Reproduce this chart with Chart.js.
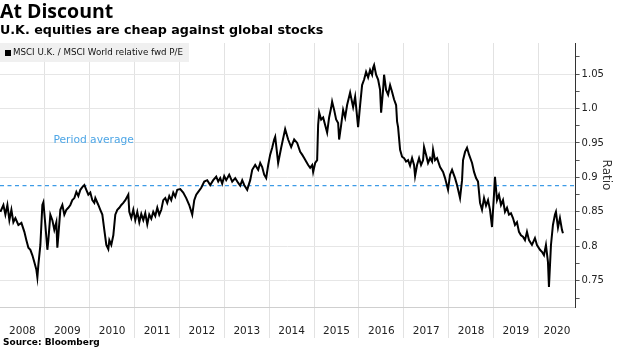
<!DOCTYPE html>
<html>
<head>
<meta charset="utf-8">
<script src="https://cdn.jsdelivr.net/npm/chart.js@4.4.1/dist/chart.umd.min.js"></script>
<style>
  html, body { margin: 0; padding: 0; background: #fff; }
  #wrap { position: relative; width: 620px; height: 348px; overflow: hidden; }
  #chart { position: absolute; left: 0; top: 0; }
  .title { position: absolute; left: 0; top: -1px; font: bold 19.5px "Open Sans", sans-serif; color: #000; line-height: 24px; white-space: nowrap; }
  .subtitle { position: absolute; left: 0; top: 22px; font: bold 12.7px "DejaVu Sans", sans-serif; color: #000; line-height: 16px; white-space: nowrap; }
  .legend { position: absolute; left: 0; top: 43px; width: 189px; height: 19px; background: rgba(238,238,238,0.9); font: 8.7px "DejaVu Sans", sans-serif; line-height: 19px; color: #111; white-space: nowrap; }
  .legend i { display: inline-block; width: 6px; height: 6px; background: #000; margin: 0 2px 0 5px; vertical-align: -0.5px; }
  .source { position: absolute; left: 3px; top: 336px; font: bold 9px "DejaVu Sans", sans-serif; color: #000; line-height: 12px; white-space: nowrap; }
</style>
</head>
<body>
<div id="wrap">
  <canvas id="chart" width="620" height="348"></canvas>
  <div class="title">At Discount</div>
  <div class="subtitle">U.K. equities are cheap against global stocks</div>
  <div class="legend"><i></i>MSCI U.K. / MSCI World relative fwd P/E</div>
  <div class="source">Source: Bloomberg</div>
</div>
<script>
// Relative forward P/E, MSCI U.K. vs MSCI World (dates as fractional years)
const dates = [
  2008.009, 2008.076, 2008.120, 2008.165, 2008.209, 2008.254, 2008.298, 2008.343, 2008.410, 2008.477,
  2008.543, 2008.588, 2008.633, 2008.677, 2008.722, 2008.766, 2008.811, 2008.833, 2008.855, 2008.900,
  2008.944, 2008.967, 2009.011, 2009.056, 2009.078, 2009.122, 2009.167, 2009.211, 2009.256, 2009.278,
  2009.301, 2009.345, 2009.390, 2009.434, 2009.479, 2009.523, 2009.568, 2009.612, 2009.657, 2009.702,
  2009.746, 2009.791, 2009.835, 2009.880, 2009.924, 2009.969, 2010.013, 2010.058, 2010.102, 2010.125,
  2010.192, 2010.236, 2010.281, 2010.325, 2010.370, 2010.414, 2010.437, 2010.481, 2010.526, 2010.570,
  2010.615, 2010.659, 2010.704, 2010.748, 2010.793, 2010.860, 2010.882, 2010.927, 2010.971, 2011.016,
  2011.060, 2011.105, 2011.149, 2011.194, 2011.238, 2011.283, 2011.327, 2011.372, 2011.416, 2011.461,
  2011.506, 2011.550, 2011.595, 2011.639, 2011.684, 2011.728, 2011.773, 2011.817, 2011.862, 2011.906,
  2011.951, 2012.018, 2012.084, 2012.151, 2012.218, 2012.285, 2012.330, 2012.374, 2012.419, 2012.486,
  2012.553, 2012.619, 2012.686, 2012.753, 2012.820, 2012.864, 2012.909, 2012.953, 2012.998, 2013.042,
  2013.109, 2013.176, 2013.243, 2013.310, 2013.354, 2013.399, 2013.443, 2013.510, 2013.577, 2013.622,
  2013.688, 2013.755, 2013.800, 2013.844, 2013.889, 2013.933, 2013.978, 2014.022, 2014.067, 2014.111,
  2014.134, 2014.200, 2014.267, 2014.356, 2014.423, 2014.490, 2014.557, 2014.624, 2014.691, 2014.735,
  2014.780, 2014.824, 2014.869, 2014.913, 2014.958, 2014.980, 2015.025, 2015.069, 2015.091, 2015.114,
  2015.158, 2015.203, 2015.247, 2015.292, 2015.336, 2015.381, 2015.403, 2015.448, 2015.492, 2015.537,
  2015.559, 2015.604, 2015.648, 2015.693, 2015.737, 2015.804, 2015.871, 2015.916, 2015.982, 2016.027,
  2016.071, 2016.116, 2016.160, 2016.205, 2016.249, 2016.294, 2016.316, 2016.339, 2016.383, 2016.428,
  2016.472, 2016.495, 2016.539, 2016.561, 2016.606, 2016.651, 2016.695, 2016.740, 2016.784, 2016.829,
  2016.851, 2016.873, 2016.918, 2016.962, 2017.007, 2017.051, 2017.096, 2017.140, 2017.185, 2017.229,
  2017.252, 2017.296, 2017.341, 2017.385, 2017.430, 2017.452, 2017.497, 2017.541, 2017.586, 2017.630,
  2017.653, 2017.697, 2017.742, 2017.809, 2017.876, 2017.920, 2017.987, 2018.031, 2018.076, 2018.143,
  2018.187, 2018.254, 2018.299, 2018.321, 2018.366, 2018.410, 2018.455, 2018.522, 2018.566, 2018.611,
  2018.655, 2018.700, 2018.744, 2018.789, 2018.833, 2018.878, 2018.922, 2018.967, 2019.011, 2019.033,
  2019.078, 2019.122, 2019.167, 2019.212, 2019.256, 2019.301, 2019.345, 2019.390, 2019.434, 2019.479,
  2019.523, 2019.568, 2019.612, 2019.657, 2019.702, 2019.746, 2019.791, 2019.857, 2019.924, 2019.969,
  2020.036, 2020.080, 2020.125, 2020.169, 2020.214, 2020.236, 2020.281, 2020.325, 2020.370, 2020.392,
  2020.437, 2020.481, 2020.526, 2020.548
];
const ratio = [
  0.850, 0.860, 0.846, 0.860, 0.838, 0.853, 0.835, 0.841, 0.831, 0.834,
  0.821, 0.809, 0.798, 0.795, 0.787, 0.777, 0.766, 0.755, 0.773, 0.802,
  0.860, 0.864, 0.831, 0.795, 0.809, 0.846, 0.838, 0.824, 0.835, 0.798,
  0.816, 0.853, 0.860, 0.846, 0.853, 0.856, 0.860, 0.867, 0.870, 0.879,
  0.873, 0.882, 0.886, 0.889, 0.882, 0.875, 0.878, 0.867, 0.863, 0.870,
  0.860, 0.853, 0.846, 0.824, 0.802, 0.796, 0.809, 0.802, 0.816, 0.846,
  0.853, 0.856, 0.860, 0.863, 0.867, 0.875, 0.850, 0.841, 0.853, 0.838,
  0.850, 0.835, 0.847, 0.838, 0.848, 0.832, 0.846, 0.840, 0.850, 0.844,
  0.856, 0.846, 0.853, 0.867, 0.870, 0.863, 0.873, 0.867, 0.878, 0.872,
  0.882, 0.883, 0.878, 0.870, 0.860, 0.846, 0.867, 0.875, 0.879, 0.885,
  0.894, 0.896, 0.889, 0.896, 0.901, 0.894, 0.899, 0.891, 0.902, 0.896,
  0.904, 0.894, 0.899, 0.892, 0.888, 0.896, 0.889, 0.882, 0.896, 0.911,
  0.918, 0.911, 0.921, 0.915, 0.904, 0.899, 0.918, 0.933, 0.943, 0.955,
  0.959, 0.921, 0.943, 0.970, 0.955, 0.944, 0.955, 0.950, 0.937, 0.933,
  0.928, 0.923, 0.918, 0.914, 0.918, 0.908, 0.921, 0.925, 0.976, 0.994,
  0.984, 0.987, 0.976, 0.965, 0.987, 1.001, 1.010, 0.998, 0.984, 0.979,
  0.955, 0.976, 0.998, 0.987, 1.005, 1.023, 1.002, 1.017, 0.973, 1.005,
  1.034, 1.042, 1.053, 1.045, 1.056, 1.049, 1.059, 1.063, 1.049, 1.042,
  1.027, 0.994, 1.027, 1.049, 1.027, 1.020, 1.034, 1.024, 1.013, 1.005,
  0.981, 0.973, 0.940, 0.930, 0.928, 0.923, 0.925, 0.917, 0.928, 0.918,
  0.902, 0.918, 0.928, 0.918, 0.925, 0.944, 0.933, 0.921, 0.928, 0.923,
  0.940, 0.925, 0.928, 0.915, 0.908, 0.899, 0.882, 0.904, 0.911, 0.899,
  0.889, 0.870, 0.896, 0.925, 0.937, 0.943, 0.933, 0.921, 0.908, 0.899,
  0.894, 0.863, 0.853, 0.870, 0.859, 0.867, 0.853, 0.828, 0.875, 0.901,
  0.867, 0.875, 0.860, 0.867, 0.850, 0.856, 0.846, 0.848, 0.841, 0.831,
  0.835, 0.821, 0.816, 0.814, 0.809, 0.821, 0.809, 0.802, 0.812, 0.802,
  0.795, 0.792, 0.787, 0.802, 0.777, 0.741, 0.802, 0.831, 0.846, 0.850,
  0.827, 0.841, 0.824, 0.819
];
const periodAverage = 0.888;
const yearLabels = ['2008', '2009', '2010', '2011', '2012', '2013', '2014', '2015', '2016', '2017', '2018', '2019', '2020'];
const ratioTicks = [0.75, 0.8, 0.85, 0.9, 0.95, 1.0, 1.05];

const X_MIN = 2008, X_MAX = 2020.83;
const Y_MIN = 0.712, Y_MAX = 1.095;

// year boundaries carry the grid; label ticks sit in the middle of each visible year
const boundaryTicks = yearLabels.map(Number).filter(y => y > X_MIN && y < X_MAX);
const labelTicks = yearLabels.map(Number).map(y => (Math.min(y + 1, X_MAX) + y) / 2);
const isBoundary = v => boundaryTicks.some(b => Math.abs(b - v) < 1e-6);
const labelFor = v => {
  const i = labelTicks.findIndex(m => Math.abs(m - v) < 1e-6);
  return i >= 0 ? yearLabels[i] : '';
};
const isMajorRatio = v => ratioTicks.some(r => Math.abs(r - v) < 1e-6);
const fmtRatio = v => (Math.abs(v - 1) < 1e-6 ? '1.0' : String(+v.toFixed(2)));

const averageLabel = {
  id: 'averageLabel',
  afterDatasetsDraw(chart) {
    const { ctx, scales } = chart;
    ctx.save();
    ctx.font = '10.7px "DejaVu Sans", sans-serif';
    ctx.fillStyle = '#4ea6e6';
    ctx.textAlign = 'left';
    ctx.textBaseline = 'middle';
    ctx.fillText('Period average', scales.x.getPixelForValue(2009.19), scales.y.getPixelForValue(0.9545));
    ctx.restore();
  }
};

new Chart(document.getElementById('chart'), {
  type: 'line',
  data: {
    datasets: [
      {
        label: 'MSCI U.K. / MSCI World relative fwd P/E',
        data: dates.map((d, i) => ({ x: d, y: ratio[i] })),
        borderColor: '#000',
        borderWidth: 2,
        pointRadius: 0,
        tension: 0
      },
      {
        label: 'Period average',
        data: [{ x: X_MIN, y: periodAverage }, { x: X_MAX, y: periodAverage }],
        borderColor: '#3d9be6',
        borderWidth: 1.3,
        borderDash: [4, 3.5],
        pointRadius: 0
      }
    ]
  },
  options: {
    responsive: false,
    animation: false,
    devicePixelRatio: 1,
    layout: { padding: { top: 43, left: 0, right: 0, bottom: 0 } },
    plugins: { legend: { display: false }, tooltip: { enabled: false } },
    scales: {
      x: {
        type: 'linear',
        min: X_MIN,
        max: X_MAX,
        afterBuildTicks: axis => {
          axis.ticks = boundaryTicks.concat(labelTicks).sort((a, b) => a - b).map(v => ({ value: v }));
        },
        afterFit: axis => { axis.height = 41; },
        grid: {
          color: c => (c.tick && isBoundary(c.tick.value) ? '#e2e2e2' : 'rgba(0,0,0,0)'),
          tickColor: c => (c.tick && isBoundary(c.tick.value) ? '#e2e2e2' : 'rgba(0,0,0,0)'),
          tickLength: 31
        },
        border: { display: true, color: '#cfcfcf' },
        ticks: {
          autoSkip: false,
          maxRotation: 0,
          padding: -13,
          color: '#222',
          font: { family: 'DejaVu Sans', size: 10.5 },
          callback: v => labelFor(v)
        }
      },
      y: {
        position: 'right',
        min: Y_MIN,
        max: Y_MAX,
        afterBuildTicks: axis => {
          const t = [];
          for (let k = 29; k <= 43; k++) t.push({ value: Math.round(k * 25) / 1000 });
          axis.ticks = t.filter(o => o.value > Y_MIN && o.value < Y_MAX);
        },
        afterFit: axis => { axis.width = 44.4; },
        grid: {
          color: c => (c.tick && isMajorRatio(c.tick.value) ? '#e6e6e6' : 'rgba(0,0,0,0)'),
          tickColor: '#555',
          tickLength: 4
        },
        border: { display: true, color: '#333' },
        ticks: {
          padding: 2,
          color: '#222',
          font: { family: 'DejaVu Sans', size: 10 },
          callback: v => (isMajorRatio(v) ? fmtRatio(v) : '')
        },
        title: {
          display: true,
          text: 'Ratio',
          color: '#333',
          font: { family: 'DejaVu Sans', size: 12 },
          padding: { top: 7, bottom: 0 }
        }
      }
    }
  },
  plugins: [averageLabel]
});
</script>
</body>
</html>
